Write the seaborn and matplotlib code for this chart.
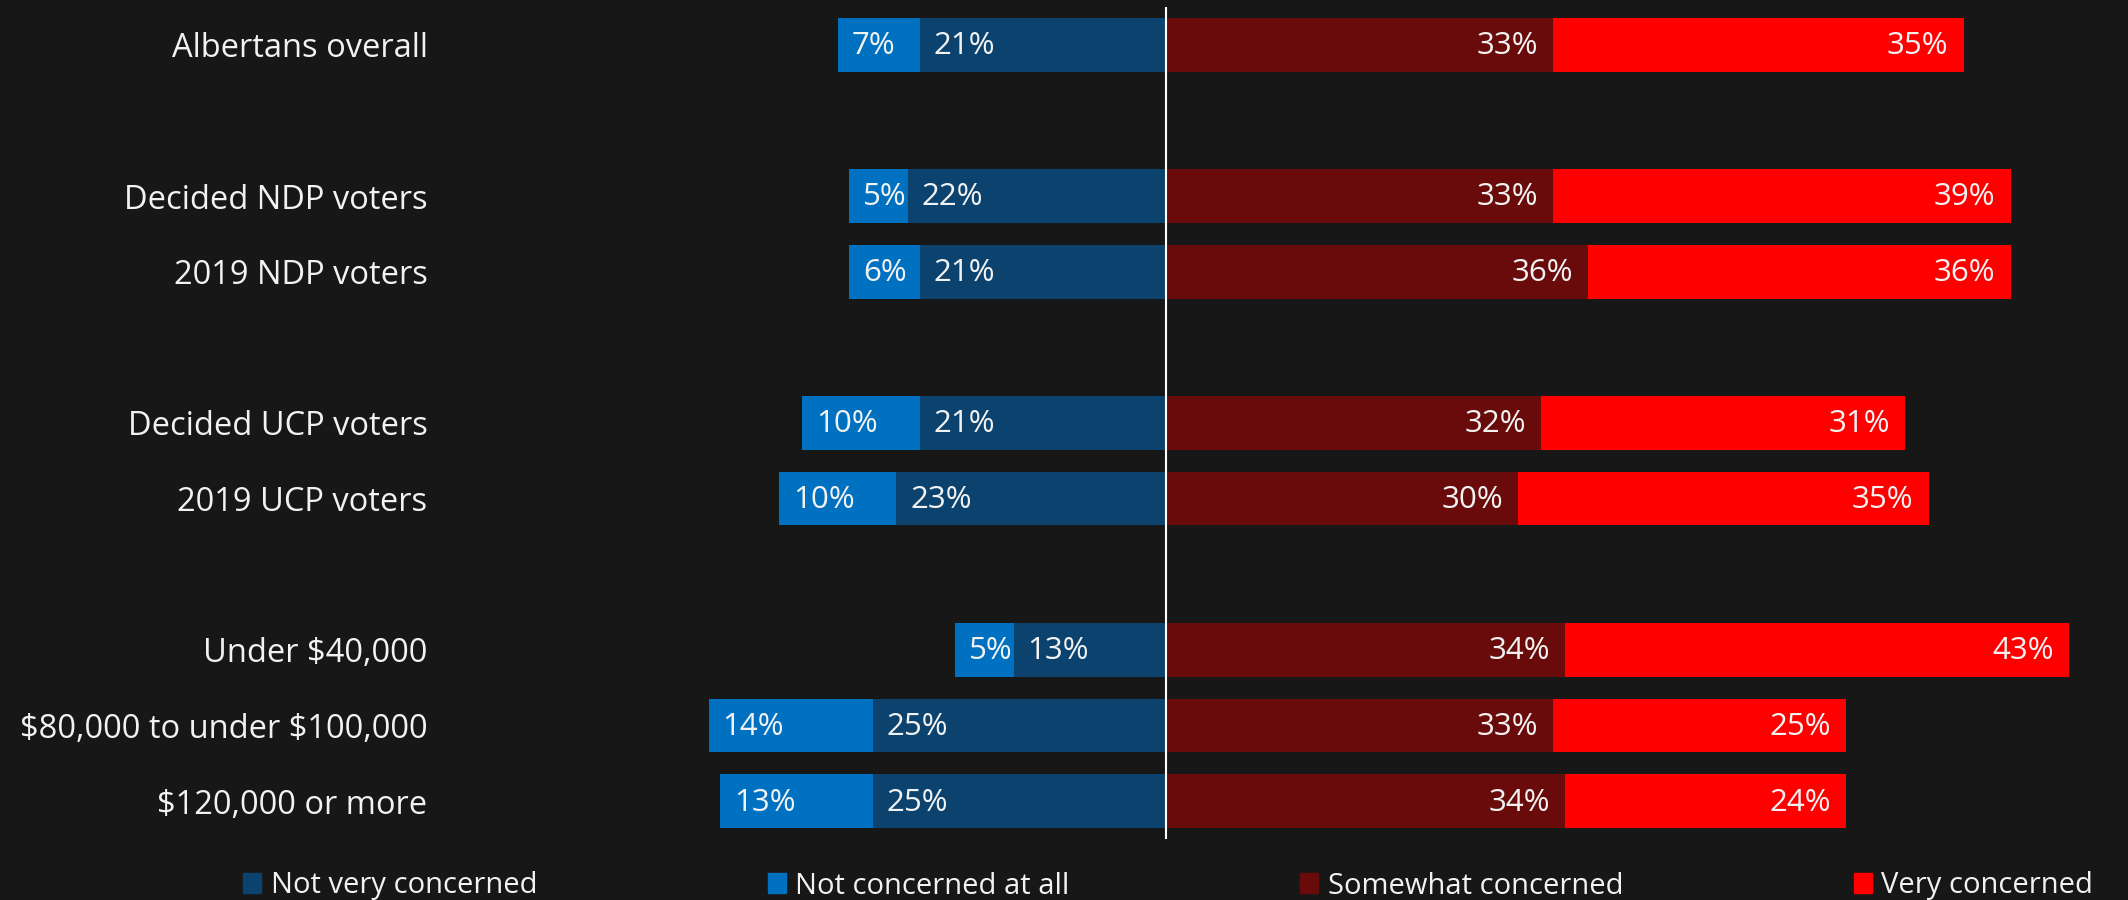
import seaborn as sns
import matplotlib.pyplot as plt
from matplotlib.patches import Patch

# data
groups = ['Albertans overall', 'Decided NDP voters', '2019 NDP voters',
          'Decided UCP voters', '2019 UCP voters', 'Under $40,000',
          '$80,000 to under $100,000', '$120,000 or more']
rows = [0, 2, 3, 5, 6, 8, 9, 10]
not_very = [21, 22, 21, 21, 23, 13, 25, 25]
not_at_all = [7, 5, 6, 10, 10, 5, 14, 13]
somewhat = [33, 33, 36, 32, 30, 34, 33, 34]
very = [35, 39, 36, 31, 35, 43, 25, 24]

c_not_very = '#0c436e'
c_not_at_all = '#0070c0'
c_somewhat = '#690b0b'
c_very = '#ff0000'
bg = '#171717'
fg = '#f2f2f2'

sns.set_theme(style='dark')
plt.rcParams['font.family'] = ['Open Sans', 'DejaVu Sans']
plt.rcParams['text.parse_math'] = False

fig = plt.figure(figsize=(21.28, 9), dpi=100, facecolor=bg)
ax = fig.add_axes([440 / 2128, 1 - 839 / 900, 1 - 440 / 2128, 832 / 900])
ax.set_facecolor(bg)

left_total = [-(a + b) for a, b in zip(not_very, not_at_all)]
left_inner = [-a for a in not_very]
right_total = [a + b for a, b in zip(somewhat, very)]

# stacked by overdrawing: full length first, inner segment on top
sns.barplot(x=left_total, y=rows, orient='h', native_scale=True, color=c_not_at_all,
            width=0.71, linewidth=0, saturation=1, ax=ax)
sns.barplot(x=left_inner, y=rows, orient='h', native_scale=True, color=c_not_very,
            width=0.71, linewidth=0, saturation=1, ax=ax)
sns.barplot(x=right_total, y=rows, orient='h', native_scale=True, color=c_very,
            width=0.71, linewidth=0, saturation=1, ax=ax)
sns.barplot(x=somewhat, y=rows, orient='h', native_scale=True, color=c_somewhat,
            width=0.71, linewidth=0, saturation=1, ax=ax)

# value labels
for i, r in enumerate(rows):
    lab = dict(textcoords='offset points', va='center', color=fg, fontsize=22.5)
    ax.annotate(f'{not_at_all[i]}%', (left_total[i], r), xytext=(10, -1), ha='left', **lab)
    ax.annotate(f'{not_very[i]}%', (left_inner[i], r), xytext=(10, -1), ha='left', **lab)
    ax.annotate(f'{somewhat[i]}%', (somewhat[i], r), xytext=(-11, -1), ha='right', **lab)
    ax.annotate(f'{very[i]}%', (right_total[i], r), xytext=(-11, -1), ha='right', **lab)

ax.axvline(0, color='white', lw=1.5)
ax.set_xlim(-61.9, 82.0)
ax.set_ylim(10.5, -0.5)
ax.set_yticks(rows)
ax.set_yticklabels(groups, color=fg, fontsize=23.5)
ax.tick_params(axis='y', length=0, pad=9)
ax.set_xticks([])
ax.set_xlabel('')
ax.set_ylabel('')
ax.grid(False)
for s in ax.spines.values():
    s.set_visible(False)

handles = [Patch(color=c_not_very, label='Not very concerned'),
           Patch(color=c_not_at_all, label='Not concerned at all'),
           Patch(color=c_somewhat, label='Somewhat concerned'),
           Patch(color=c_very, label='Very concerned')]
fig.legend(handles=handles, loc='center left', bbox_to_anchor=(243 / 2128, 1 - 886 / 900),
           ncol=4, frameon=False, fontsize=21, labelcolor=fg, borderpad=0,
           borderaxespad=0, handlelength=0.62, handleheight=0.68,
           handletextpad=0.33, columnspacing=7.9)

fig.savefig('out.png', dpi=100, facecolor=bg)
